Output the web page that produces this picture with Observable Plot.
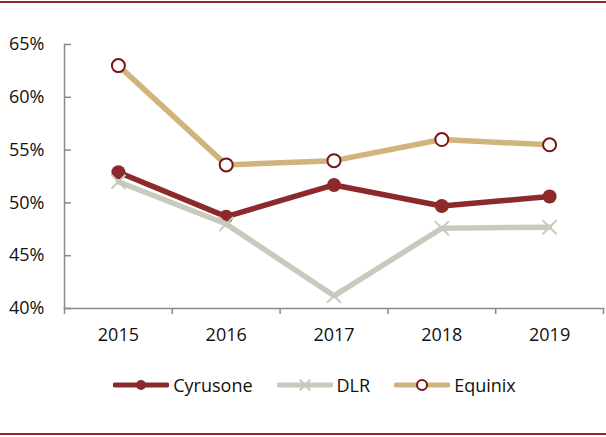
<!DOCTYPE html>
<html><head><meta charset="utf-8">
<script src="https://cdn.jsdelivr.net/npm/d3@7"></script>
<script src="https://cdn.jsdelivr.net/npm/@observablehq/plot@0.6"></script>
<style>
body{margin:0;background:#fff;font-family:"Open Sans",sans-serif;}
#wrap{position:relative;width:606px;height:437px;overflow:hidden;background:#fff;}
.rule{position:absolute;left:0;width:606px;height:2px;background:#8C2A2E;}
#chart{position:absolute;left:0;top:0;}
#legend{position:absolute;left:0;top:372px;width:606px;height:26px;display:flex;justify-content:center;align-items:center;padding-left:23px;box-sizing:border-box;font-size:18px;color:#111;}
.item{display:flex;align-items:center;margin:0 12px;}
.item svg{margin-right:4px;}
</style></head>
<body>
<div id="wrap">
  <div class="rule" style="top:1px"></div>
  <div id="chart"></div>
  <div id="legend"></div>
  <div class="rule" style="top:433px"></div>
</div>
<script>
const years = [2015, 2016, 2017, 2018, 2019];
const cyrusone = [52.9, 48.7, 51.7, 49.7, 50.6];
const dlr = [52.0, 48.0, 41.2, 47.6, 47.7];
const equinix = [63.0, 53.6, 54.0, 56.0, 55.5];
const yTicks = [40, 45, 50, 55, 60, 65];
const seriesNames = ["Cyrusone", "DLR", "Equinix"];

const colors = {Cyrusone: "#8C2A2B", DLR: "#C9C9BE", Equinix: "#D1B47C"};
const markerStroke = "#7A1414";
const axisColor = "#8A8A8A";

const rows = (name, vals) => years.map((y, i) => ({series: name, year: y, value: vals[i]}));
const data = [...rows("Cyrusone", cyrusone), ...rows("DLR", dlr), ...rows("Equinix", equinix)];
const boundaries = [years[0] - 0.5, ...years.map(y => y + 0.5)];

const chart = Plot.plot({
  width: 606,
  height: 352,
  marginLeft: 64,
  marginRight: 3,
  marginTop: 44,
  marginBottom: 44,
  style: {fontFamily: "Open Sans", fontSize: "18px", color: "#111", background: "transparent", overflow: "visible"},
  x: {type: "linear", domain: [boundaries[0], boundaries[boundaries.length - 1]]},
  y: {domain: [40, 65]},
  marks: [
    Plot.frame({anchor: "left", stroke: axisColor, strokeWidth: 1.5}),
    Plot.frame({anchor: "bottom", stroke: axisColor, strokeWidth: 1.5}),
    Plot.axisY({ticks: yTicks, tickSize: 0, tickPadding: 20, tickFormat: d => d + "%", label: null, fill: "#111"}),
    Plot.axisY({ticks: yTicks, tickSize: -7, tickFormat: () => "", label: null, stroke: axisColor, strokeWidth: 1.5}),
    Plot.axisX({ticks: boundaries, tickSize: 6, tickFormat: () => "", label: null, stroke: axisColor, strokeWidth: 1.5}),
    Plot.axisX({ticks: years, tickSize: 0, tickPadding: 20, tickFormat: d => String(d), label: null, fill: "#111"}),
    Plot.line(data.filter(d => d.series === "Cyrusone"), {x: "year", y: "value", stroke: colors.Cyrusone, strokeWidth: 5.5}),
    Plot.dot(data.filter(d => d.series === "Cyrusone"), {x: "year", y: "value", r: 7, fill: colors.Cyrusone}),
    Plot.line(data.filter(d => d.series === "DLR"), {x: "year", y: "value", stroke: colors.DLR, strokeWidth: 5.5}),
    Plot.dot(data.filter(d => d.series === "DLR"), {x: "year", y: "value", r: 6.5, symbol: "times", stroke: colors.DLR, strokeWidth: 2}),
    Plot.line(data.filter(d => d.series === "Equinix"), {x: "year", y: "value", stroke: colors.Equinix, strokeWidth: 5.5}),
    Plot.dot(data.filter(d => d.series === "Equinix"), {x: "year", y: "value", r: 6.5, fill: "#fff", stroke: markerStroke, strokeWidth: 2})
  ]
});
document.getElementById("chart").appendChild(chart);

// legend
const legend = d3.select("#legend");
seriesNames.forEach(name => {
  const item = legend.append("div").attr("class", "item");
  const svg = item.append("svg").attr("width", 56).attr("height", 16);
  svg.append("line").attr("x1", 2).attr("x2", 54).attr("y1", 8).attr("y2", 8)
    .attr("stroke", colors[name]).attr("stroke-width", 5).attr("stroke-linecap", "round");
  if (name === "Cyrusone") {
    svg.append("circle").attr("cx", 28).attr("cy", 8).attr("r", 5).attr("fill", colors[name]);
  } else if (name === "DLR") {
    svg.append("path").attr("d", d3.symbol(d3.symbolTimes, 80)()).attr("transform", "translate(28,8)")
      .attr("stroke", colors[name]).attr("stroke-width", 2).attr("fill", "none");
  } else {
    svg.append("circle").attr("cx", 28).attr("cy", 8).attr("r", 5).attr("fill", "#fff")
      .attr("stroke", markerStroke).attr("stroke-width", 2);
  }
  item.append("span").text(name);
});
</script>
</body></html>
